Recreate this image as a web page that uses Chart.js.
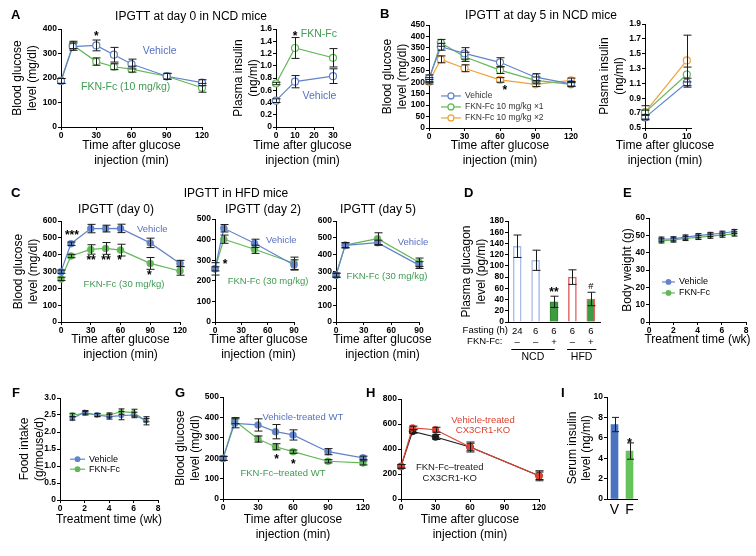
<!DOCTYPE html>
<html>
<head>
<meta charset="utf-8">
<script src="https://cdn.jsdelivr.net/npm/chart.js@4.4.0/dist/chart.umd.min.js"></script>
<style>
  body { margin: 0; background: #fff; width: 756px; height: 556px; position: relative; overflow: hidden; font-family: "Liberation Sans", Arial, sans-serif; }
  canvas { position: absolute; }
  .lbl { position: absolute; white-space: nowrap; line-height: 1; color: #000; }
</style>
</head>
<body>
<script>
// A: IPGTT at day 0, NCD mice
const tA = [0, 10, 30, 45, 60, 90, 120];
const glcVehA = [188, 328, 333, 295, 257, 207, 181];
const glcVehAErr = [10, 15, 22, 30, 20, 12, 12];
const glcFknA = [188, 335, 267, 246, 236, 207, 160];
const glcFknAErr = [10, 15, 15, 12, 12, 12, 18];
const tInsA = [0, 10, 30];
const insVehA = [0.43, 0.74, 0.83];
const insVehAErr = [0.03, 0.1, 0.12];
const insFknA = [0.71, 1.29, 1.13];
const insFknAErr = [0.02, 0.17, 0.15];

// B: IPGTT at day 5, NCD mice
const tB = [0, 10, 30, 60, 90, 120];
const glcVehB = [217, 355, 326, 287, 222, 193];
const glcVehBErr = [15, 15, 25, 20, 15, 10];
const glcF1B = [210, 372, 311, 253, 208, 191];
const glcF1BErr = [10, 15, 20, 15, 15, 10];
const glcF2B = [202, 300, 261, 210, 191, 208];
const glcF2BErr = [10, 15, 15, 10, 10, 10];
const tInsB = [0, 10];
const insTicksB = [0, 10];
const insVehB = [0.64, 1.11];
const insVehBErr = [0.03, 0.06];
const insF1B = [0.71, 1.22];
const insF1BErr = [0.03, 0.1];
const insF2B = [0.71, 1.41];
const insF2BErr = [0.09, 0.34];

// C: IPGTT in HFD mice
const tC0 = [0, 10, 30, 45, 60, 90, 120];
const glcVehC0 = [299, 465, 555, 555, 556, 470, 348];
const glcVehC0Err = [10, 10, 25, 20, 25, 28, 18];
const glcFknC0 = [256, 392, 431, 437, 427, 348, 303];
const glcFknC0Err = [10, 10, 28, 35, 35, 35, 25];
const tC25 = [0, 10, 45, 90];
const glcVehC2 = [258, 455, 382, 277];
const glcVehC2Err = [10, 18, 20, 25];
const glcFknC2 = [258, 402, 353, 285];
const glcFknC2Err = [30, 20, 20, 30];
const glcVehC5 = [278, 455, 471, 338];
const glcVehC5Err = [12, 15, 15, 20];
const glcFknC5 = [278, 457, 495, 355];
const glcFknC5Err = [12, 15, 35, 25];

// D: plasma glucagon
const fastingH = ['24', '6', '6', '6', '6'];
const fknGiven = ['\u2013', '\u2013', '+', '\u2013', '+'];
const glucagon = [135, 110, 36, 80, 41];
const glucagonErr = [20, 18, 10, 13, 12];

// E, F: weekly body weight and food intake
const wk = [1, 2, 3, 4, 5, 6, 7];
const bwVeh = [47.8, 48, 49, 49.8, 50.5, 51.2, 52.2];
const bwVehErr = [1.2, 1.2, 1.2, 1.2, 1.2, 1.2, 1.2];
const bwFkn = [46.8, 47.3, 48.2, 48.8, 49.5, 50.1, 50.8];
const bwFknErr = [1.2, 1.2, 1.2, 1.2, 1.2, 1.2, 1.2];
const foodVeh = [2.4, 2.58, 2.5, 2.45, 2.48, 2.5, 2.35];
const foodVehErr = [0.05, 0.05, 0.05, 0.07, 0.12, 0.08, 0.05];
const foodFkn = [2.5, 2.55, 2.5, 2.5, 2.6, 2.57, 2.33];
const foodFknErr = [0.05, 0.05, 0.04, 0.06, 0.08, 0.1, 0.12];

// G: WT mice
const tG = [0, 10, 30, 45, 60, 90, 120];
const glcVehG = [199, 371, 363, 330, 314, 232, 202];
const glcVehGErr = [10, 22, 30, 35, 25, 15, 8];
const glcFknG = [199, 384, 294, 256, 232, 185, 177];
const glcFknGErr = [10, 15, 15, 15, 8, 8, 10];

// H: CX3CR1-KO mice
const tH = [0, 10, 30, 60, 120];
const glcVehH = [261, 568, 554, 416, 186];
const glcVehHErr = [15, 15, 20, 30, 30];
const glcFknH = [261, 541, 496, 416, 186];
const glcFknHErr = [15, 15, 20, 40, 40];

// I: serum insulin
const insCats = ['V', 'F'];
const insSerum = [7.3, 4.7];
const insSerumErr = [0.7, 0.8];

const FONT = '"Liberation Sans", Arial, sans-serif';
const LH = 14.4;
Chart.defaults.font.family = FONT;
Chart.defaults.animation = false;
Chart.defaults.plugins.legend.display = false;
Chart.defaults.plugins.tooltip.enabled = false;

const BLUE = '#6283cb', GREEN = '#62b857', ORANGE = '#f2a03d';
const BLUE_T = '#5670c0', GREEN_T = '#3f9c52';

const errorBars = {
  id: 'errorBars',
  afterDatasetsDraw(chart) {
    const ctx = chart.ctx, ys = chart.scales.y;
    chart.data.datasets.forEach((ds, i) => {
      if (!ds.err) return;
      const meta = chart.getDatasetMeta(i);
      ctx.save();
      ctx.strokeStyle = ds.errColor || '#1a1a1a';
      ctx.lineWidth = 1;
      meta.data.forEach((el, j) => {
        const v = ds.data[j];
        const val = typeof v === 'object' ? v.y : v;
        const e = ds.err[j];
        if (!e) return;
        const x = Math.round(el.x) + 0.5, cw = (ds.capW || 8) / 2;
        const y1 = ys.getPixelForValue(val + e), y2 = ys.getPixelForValue(val - e);
        ctx.beginPath();
        ctx.moveTo(x, y1); ctx.lineTo(x, y2);
        ctx.moveTo(x - cw, y1); ctx.lineTo(x + cw, y1);
        ctx.moveTo(x - cw, y2); ctx.lineTo(x + cw, y2);
        ctx.stroke();
      });
      ctx.restore();
    });
  }
};

const notes = {
  id: 'notes',
  afterDraw(chart, args, opts) {
    const {ctx, scales: {x, y}} = chart;
    ctx.save();
    (opts.items || []).forEach(n => {
      const px = x.getPixelForValue(n.x), py = y.getPixelForValue(n.y);
      if (n.x2 !== undefined) {
        ctx.strokeStyle = '#000';
        ctx.lineWidth = 1;
        ctx.beginPath();
        ctx.moveTo(px, Math.round(py) + 0.5);
        ctx.lineTo(x.getPixelForValue(n.x2), Math.round(py) + 0.5);
        ctx.stroke();
        return;
      }
      const size = n.s || 9;
      ctx.font = (n.i ? 'italic ' : '') + (n.b ? 'bold ' : '') + size + 'px ' + FONT;
      ctx.fillStyle = n.c || '#000';
      ctx.textAlign = n.a || 'center';
      ctx.textBaseline = 'middle';
      ctx.fillText(n.t, px, py + (n.t.includes('*') ? size * 0.28 : 0));
    });
    ctx.restore();
  }
};

const legendIn = {
  id: 'legendIn',
  afterDraw(chart, args, o) {
    if (!o.items) return;
    const {ctx, scales: {x, y}} = chart;
    const x0 = x.getPixelForValue(o.x0), x1 = x.getPixelForValue(o.x1);
    let py = y.getPixelForValue(o.y);
    ctx.save();
    o.items.forEach(it => {
      ctx.strokeStyle = it.c;
      ctx.lineWidth = 1.2;
      ctx.beginPath();
      ctx.moveTo(x0, py); ctx.lineTo(x1, py);
      ctx.stroke();
      ctx.beginPath();
      ctx.arc((x0 + x1) / 2, py, o.r, 0, Math.PI * 2);
      ctx.fillStyle = it.open ? '#fff' : it.c;
      ctx.fill();
      ctx.stroke();
      ctx.fillStyle = o.tc || '#000';
      ctx.font = o.s + 'px ' + FONT;
      ctx.textAlign = 'left';
      ctx.textBaseline = 'middle';
      ctx.fillText(it.t, x1 + 4, py);
      py += o.dy;
    });
    ctx.restore();
  }
};

// x-axis title drawn under the chart area without the width squeeze of the built-in title
const xTitle = {
  id: 'xTitle',
  afterDraw(chart, args, o) {
    if (!o.lines) return;
    const {ctx, chartArea} = chart;
    ctx.save();
    ctx.fillStyle = '#000';
    ctx.font = '12px ' + FONT;
    ctx.textAlign = 'center';
    ctx.textBaseline = 'middle';
    const cx = (chartArea.left + chartArea.right) / 2 + (o.dx || 0);
    o.lines.forEach((t, i) => ctx.fillText(t, cx, o.y + i * LH));
    ctx.restore();
  }
};

Chart.register(errorBars, notes, legendIn, xTitle);

const pts = (xs, ys) => xs.map((x, i) => ({x, y: ys[i]}));

function series(xs, ys, err, color, o = {}) {
  return {
    data: pts(xs, ys), err,
    borderColor: color, backgroundColor: color,
    borderWidth: o.lw || 1.2,
    pointRadius: o.r || 3.5,
    pointBorderWidth: o.open ? 1.2 : 0.5,
    pointBackgroundColor: o.open ? '#fff' : color,
    pointBorderColor: color,
    capW: o.cap || 8,
    clip: false, tension: 0
  };
}

function axis(o, fit) {
  const a = {
    type: o.type || 'linear', min: o.min, max: o.max,
    border: {display: true, color: '#000', width: 1},
    grid: {display: !o.noTicks, drawOnChartArea: false, color: '#000', tickLength: 3},
    ticks: {
      color: '#000', padding: o.pad ?? 1, maxRotation: 0, autoSkip: false, stepSize: o.step,
      font: {family: FONT, size: o.fs || 8.5, weight: o.fw || 'bold', lineHeight: o.flh || 1.2}
    },
    title: o.title || {display: false},
    afterFit: fit
  };
  if (o.vals) a.afterBuildTicks = sc => { sc.ticks = o.vals.map(v => ({value: v})); };
  return a;
}

function makeChart(s) {
  const b = s.box;
  const ml = s.yTitle ? Math.round(b.x0 - s.yTitle.x + LH / 2 + 2) : (s.ml || 30);
  let mb = s.mb || 20;
  if (s.xTitle) {
    const last = s.xTitle.y + (s.xTitle.text.length - 1) * LH;
    mb = Math.ceil(last + LH / 2 + 2 - b.y1);
  }
  const mt = s.mt ?? 10, mr = s.mr ?? 14;
  const w = b.x1 - b.x0 + ml + mr, h = b.y1 - b.y0 + mt + mb;
  const top = b.y0 - mt;
  const cv = document.createElement('canvas');
  cv.width = w; cv.height = h;
  Object.assign(cv.style, {left: (b.x0 - ml) + 'px', top: top + 'px', width: w + 'px', height: h + 'px'});
  document.body.appendChild(cv);
  const tf = {family: FONT, size: 12, lineHeight: 1.2};
  const yo = Object.assign({}, s.y);
  if (s.yTitle) yo.title = {display: true, text: s.yTitle.text, color: '#000', font: tf, padding: {top: s.yTitle.x - LH / 2 - (b.x0 - ml), bottom: 0}};
  return new Chart(cv, {
    type: s.type || 'line',
    data: {labels: s.labels, datasets: s.datasets},
    options: {
      responsive: false,
      devicePixelRatio: 1,
      layout: {padding: {top: mt, right: mr, left: 0, bottom: 0}},
      scales: {x: axis(s.x, sc => { sc.height = mb; }), y: axis(yo, sc => { sc.width = ml; })},
      plugins: {
        notes: {items: s.notes || []},
        legendIn: s.legend || {},
        xTitle: s.xTitle ? {lines: s.xTitle.text, y: s.xTitle.y - top, dx: s.xTitle.dx} : {}
      }
    }
  });
}

function label(text, x, base, size, bold, center) {
  const d = document.createElement('div');
  d.className = 'lbl';
  d.textContent = text;
  d.style.fontSize = size + 'px';
  if (bold) d.style.fontWeight = 'bold';
  d.style.left = x + 'px';
  d.style.top = (base - 0.8465 * size) + 'px';
  if (center) d.style.transform = 'translateX(-50%)';
  document.body.appendChild(d);
}

const glcTitle = ['Blood glucose', 'level (mg/dl)'];
const timeTitle = ['Time after glucose', 'injection (min)'];

// Panel A
makeChart({
  box: {x0: 61, x1: 202, y0: 29, y1: 127},
  x: {min: 0, max: 120, step: 30}, y: {min: 0, max: 400, step: 100},
  xTitle: {text: timeTitle, y: 146}, yTitle: {text: glcTitle, x: 18},
  datasets: [
    series(tA, glcVehA, glcVehAErr, BLUE, {open: true}),
    series(tA, glcFknA, glcFknAErr, GREEN, {open: true})
  ],
  notes: [
    {x: 30, y: 384, t: '*', s: 12, b: true},
    {x: 84, y: 310, t: 'Vehicle', s: 10.5, c: BLUE_T},
    {x: 55, y: 163, t: 'FKN-Fc (10 mg/kg)', s: 10.5, c: GREEN_T}
  ]
});
makeChart({
  box: {x0: 276, x1: 333, y0: 29, y1: 127},
  x: {min: 0, max: 30, step: 10}, y: {min: 0, max: 1.6, step: 0.2},
  xTitle: {text: timeTitle, y: 146, dx: -2}, yTitle: {text: ['Plasma insulin', '(ng/ml)'], x: 239},
  mr: 34,
  datasets: [
    series(tInsA, insVehA, insVehAErr, BLUE, {open: true}),
    series(tInsA, insFknA, insFknAErr, GREEN, {open: true})
  ],
  notes: [
    {x: 10, y: 1.535, t: '*', s: 12, b: true},
    {x: 22.6, y: 1.52, t: 'FKN-Fc', s: 10.5, c: GREEN_T},
    {x: 22.9, y: 0.506, t: 'Vehicle', s: 10.5, c: BLUE_T}
  ]
});

// Panel B
makeChart({
  box: {x0: 429, x1: 571, y0: 25, y1: 128},
  x: {min: 0, max: 120, step: 30}, y: {min: 0, max: 450, step: 50},
  xTitle: {text: timeTitle, y: 146}, yTitle: {text: glcTitle, x: 388},
  datasets: [
    series(tB, glcVehB, glcVehBErr, BLUE, {open: true}),
    series(tB, glcF1B, glcF1BErr, GREEN, {open: true}),
    series(tB, glcF2B, glcF2BErr, ORANGE, {open: true})
  ],
  notes: [{x: 64, y: 177, t: '*', s: 12, b: true}],
  legend: {x0: 10.1, x1: 27, y: 140, dy: 11, r: 3, s: 8.5, tc: '#333', items: [
    {t: 'Vehicle', c: BLUE, open: true},
    {t: 'FKN-Fc 10 mg/kg \u00d71', c: GREEN, open: true},
    {t: 'FKN-Fc 10 mg/kg \u00d72', c: ORANGE, open: true}
  ]}
});
makeChart({
  box: {x0: 645, x1: 691, y0: 24, y1: 128},
  x: {min: 0, max: 11, vals: insTicksB}, y: {min: 0.5, max: 1.9, step: 0.2},
  xTitle: {text: timeTitle, y: 146, dx: -3}, yTitle: {text: ['Plasma insulin', '(ng/ml)'], x: 605},
  mr: 34,
  datasets: [
    series(tInsB, insVehB, insVehBErr, BLUE, {open: true}),
    series(tInsB, insF1B, insF1BErr, GREEN, {open: true}),
    series(tInsB, insF2B, insF2BErr, ORANGE, {open: true})
  ]
});

// Panel C
makeChart({
  box: {x0: 61, x1: 180, y0: 221, y1: 322},
  x: {min: 0, max: 120, step: 30}, y: {min: 0, max: 600, step: 100},
  xTitle: {text: timeTitle, y: 340}, yTitle: {text: glcTitle, x: 19},
  datasets: [
    series(tC0, glcVehC0, glcVehC0Err, BLUE),
    series(tC0, glcFknC0, glcFknC0Err, GREEN)
  ],
  notes: [
    {x: 11, y: 535, t: '***', s: 12, b: true},
    {x: 30.3, y: 383, t: '**', s: 12, b: true},
    {x: 45.4, y: 383, t: '**', s: 12, b: true},
    {x: 59, y: 383, t: '*', s: 12, b: true},
    {x: 89, y: 294, t: '*', s: 12, b: true},
    {x: 92, y: 553, t: 'Vehicle', s: 9.5, c: BLUE_T},
    {x: 63.5, y: 223, t: 'FKN-Fc (30 mg/kg)', s: 9.5, c: GREEN_T}
  ]
});
makeChart({
  box: {x0: 215, x1: 294, y0: 219, y1: 322},
  x: {min: 0, max: 90, step: 30}, y: {min: 0, max: 500, step: 100},
  xTitle: {text: timeTitle, y: 340, dx: 4}, ml: 28, mr: 34,
  datasets: [
    series(tC25, glcVehC2, glcVehC2Err, BLUE),
    series(tC25, glcFknC2, glcFknC2Err, GREEN)
  ],
  notes: [
    {x: 11.4, y: 294, t: '*', s: 12, b: true},
    {x: 75.5, y: 396, t: 'Vehicle', s: 9.5, c: BLUE_T},
    {x: 60.4, y: 197, t: 'FKN-Fc (30 mg/kg)', s: 9.5, c: GREEN_T}
  ]
});
makeChart({
  box: {x0: 336, x1: 419, y0: 221, y1: 322},
  x: {min: 0, max: 90, step: 30}, y: {min: 0, max: 600, step: 100},
  xTitle: {text: timeTitle, y: 340, dx: 5}, ml: 28, mr: 30,
  datasets: [
    series(tC25, glcVehC5, glcVehC5Err, BLUE),
    series(tC25, glcFknC5, glcFknC5Err, GREEN)
  ],
  notes: [
    {x: 83.5, y: 475, t: 'Vehicle', s: 9.5, c: BLUE_T},
    {x: 55.3, y: 271, t: 'FKN-Fc (30 mg/kg)', s: 9.5, c: GREEN_T}
  ]
});

// Panel D
makeChart({
  type: 'bar',
  box: {x0: 508, x1: 600, y0: 221, y1: 322},
  labels: fastingH.map((h, i) => [h, fknGiven[i]]),
  x: {type: 'category', noTicks: true, fs: 9.5, fw: 'normal', flh: 1.25, pad: 0},
  y: {min: 0, max: 180, step: 20},
  yTitle: {text: ['Plasma glucagon', 'level (pg/ml)'], x: 467},
  mb: 48, mr: 8,
  datasets: [{
    data: glucagon, err: glucagonErr, capW: 8, barThickness: 8, borderWidth: 1.5,
    backgroundColor: ['#fff', '#fff', '#3d9b40', '#fff', '#3d9b40'],
    borderColor: ['#a9bde6', '#a9bde6', '#2f8a33', '#e26262', '#e26262']
  }],
  notes: [
    {x: 2, y: 59, t: '**', s: 12, b: true},
    {x: 4, y: 63, t: '#', s: 9, i: true},
    {x: -0.5, y: -14.3, t: 'Fasting (h)', s: 9.5, a: 'right'},
    {x: -0.8, y: -35.1, t: 'FKN-Fc:', s: 9.5, a: 'right'},
    {x: -0.32, x2: 2.04, y: -48.7},
    {x: 2.71, x2: 4.3, y: -48.7},
    {x: 0.85, y: -62.9, t: 'NCD', s: 10.5},
    {x: 3.5, y: -62.9, t: 'HFD', s: 10.5}
  ]
});

// Panel E
makeChart({
  box: {x0: 649, x1: 746, y0: 218, y1: 322},
  x: {min: 0, max: 8, step: 2}, y: {min: 0, max: 60, step: 10},
  xTitle: {text: ['Treatment time (wk)'], y: 340}, yTitle: {text: ['Body weight (g)'], x: 627.5},
  mr: 9,
  datasets: [
    series(wk, bwVeh, bwVehErr, BLUE, {r: 2.5, cap: 6}),
    series(wk, bwFkn, bwFknErr, GREEN, {r: 2.5, cap: 6})
  ],
  legend: {x0: 1.07, x1: 2.14, y: 23.1, dy: 11, r: 2.3, s: 9, items: [
    {t: 'Vehicle', c: BLUE}, {t: 'FKN-Fc', c: GREEN}
  ]}
});

// Panel F
makeChart({
  box: {x0: 60, x1: 158, y0: 398, y1: 500},
  x: {min: 0, max: 8, step: 2}, y: {min: 0, max: 3, step: 0.5},
  xTitle: {text: ['Treatment time (wk)'], y: 520}, yTitle: {text: ['Food intake', '(g/mouse/d)'], x: 25},
  datasets: [
    series(wk, foodVeh, foodVehErr, BLUE, {r: 2.5, cap: 6}),
    series(wk, foodFkn, foodFknErr, GREEN, {r: 2.5, cap: 6})
  ],
  legend: {x0: 0.82, x1: 2.04, y: 1.2, dy: 10, r: 2.3, s: 9, items: [
    {t: 'Vehicle', c: BLUE}, {t: 'FKN-Fc', c: GREEN}
  ]}
});

// Panel G
makeChart({
  box: {x0: 223, x1: 363, y0: 397, y1: 499},
  x: {min: 0, max: 120, step: 30}, y: {min: 0, max: 500, step: 100},
  xTitle: {text: timeTitle, y: 520}, yTitle: {text: glcTitle, x: 181},
  datasets: [
    series(tG, glcVehG, glcVehGErr, BLUE),
    series(tG, glcFknG, glcFknGErr, GREEN)
  ],
  notes: [
    {x: 45.9, y: 207, t: '*', s: 12, b: true},
    {x: 60.3, y: 185, t: '*', s: 12, b: true},
    {x: 68.4, y: 400, t: 'Vehicle-treated WT', s: 9.5, c: BLUE_T},
    {x: 51.4, y: 127, t: 'FKN-Fc\u2013treated WT', s: 9.5, c: GREEN_T}
  ]
});

// Panel H
makeChart({
  box: {x0: 401, x1: 539, y0: 399, y1: 499},
  x: {min: 0, max: 120, step: 30}, y: {min: 0, max: 800, step: 200},
  xTitle: {text: timeTitle, y: 520}, ml: 30,
  datasets: [
    series(tH, glcVehH, glcVehHErr, '#e2402f'),
    series(tH, glcFknH, glcFknHErr, '#1c1c1c')
  ],
  notes: [
    {x: 71.3, y: 632, t: 'Vehicle-treated', s: 9.5, c: '#e2402f'},
    {x: 71.3, y: 548, t: 'CX3CR1-KO', s: 9.5, c: '#e2402f'},
    {x: 42.4, y: 250, t: 'FKN-Fc\u2013treated', s: 9.5, c: '#222'},
    {x: 42.4, y: 166, t: 'CX3CR1-KO', s: 9.5, c: '#222'}
  ]
});

// Panel I
makeChart({
  type: 'bar',
  box: {x0: 607, x1: 637, y0: 397, y1: 499},
  labels: insCats,
  x: {type: 'category', noTicks: true, fs: 14, fw: 'normal', pad: 0},
  y: {min: 0, max: 10, step: 2},
  yTitle: {text: ['Serum insulin', 'level (ng/ml)'], x: 572.5},
  mb: 20, mr: 8,
  datasets: [{
    data: insSerum, err: insSerumErr, capW: 7, barThickness: 7, borderWidth: 0,
    backgroundColor: ['#4a73c2', '#66c35a']
  }],
  notes: [{x: 1, y: 5.74, t: '*', s: 12, b: true}]
});

// panel letters and titles
[['A', 11, 19.5], ['B', 380, 18.5], ['C', 11, 197], ['D', 464, 197], ['E', 623, 197],
 ['F', 12, 397], ['G', 175, 397], ['H', 366, 397], ['I', 561, 397]]
  .forEach(([t, x, y]) => label(t, x, y, 13, true, false));
label('IPGTT at day 0 in NCD mice', 191, 20, 12, false, true);
label('IPGTT at day 5 in NCD mice', 541, 19, 12, false, true);
label('IPGTT in HFD mice', 236, 197, 12, false, true);
label('IPGTT (day 0)', 116, 213, 12, false, true);
label('IPGTT (day 2)', 263, 213, 12, false, true);
label('IPGTT (day 5)', 378, 213, 12, false, true);
</script>
</body>
</html>
